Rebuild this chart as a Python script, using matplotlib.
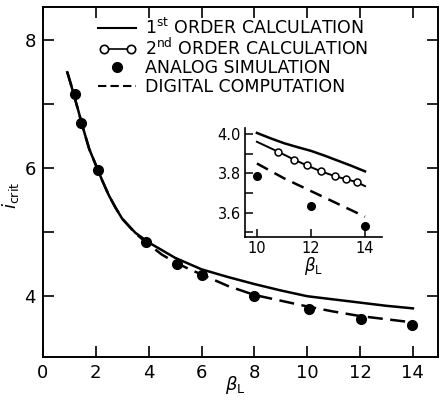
import matplotlib
matplotlib.use('Agg')
from matplotlib import pyplot as plt
from matplotlib.lines import Line2D
from matplotlib.legend_handler import HandlerLine2D

plt.rcParams['font.family'] = ['DejaVu Sans']
plt.rcParams['mathtext.fontset'] = 'dejavusans'

# main panel
beta_first = [0.92, 1.05, 1.2, 1.35, 1.5, 1.75, 2.0, 2.25, 2.5, 2.75, 3.0, 3.5, 4.0, 4.5,
              5.0, 6.0, 7.0, 8.0, 9.0, 10.0, 11.0, 12.0, 13.0, 14.0]
icrit_first = [7.5, 7.32, 7.1, 6.88, 6.65, 6.3, 6.05, 5.8, 5.57, 5.38, 5.21, 4.99, 4.84, 4.72,
               4.6, 4.42, 4.3, 4.19, 4.09, 4.0, 3.95, 3.9, 3.85, 3.81]

beta_digital = [0.92, 1.05, 1.2, 1.35, 1.5, 1.75, 2.0, 2.25, 2.5, 2.75, 3.0, 3.5, 4.0, 4.5,
                5.0, 5.5, 6.0, 7.0, 8.0, 9.0, 10.0, 11.0, 12.0, 13.0, 14.0]
icrit_digital = [7.5, 7.32, 7.1, 6.88, 6.65, 6.3, 6.05, 5.8, 5.57, 5.38, 5.21, 4.98, 4.81, 4.65,
                 4.53, 4.43, 4.34, 4.16, 4.02, 3.93, 3.84, 3.76, 3.69, 3.64, 3.59]

beta_analog = [1.21, 1.42, 2.1, 3.9, 5.08, 6.03, 8.0, 10.05, 12.03, 13.97]
icrit_analog = [7.16, 6.71, 5.97, 4.85, 4.51, 4.33, 4.0, 3.8, 3.64, 3.55]

# inset (beta 10..14)
ins_beta_first = [10.0, 10.5, 11.0, 11.5, 12.0, 12.5, 13.0, 13.5, 14.0]
ins_icrit_first = [4.005, 3.978, 3.953, 3.933, 3.914, 3.89, 3.864, 3.838, 3.81]

ins_beta_second = [10.0, 10.78, 11.37, 11.85, 12.37, 12.9, 13.31, 13.71, 14.0]
ins_icrit_second = [3.96, 3.91, 3.87, 3.84, 3.81, 3.785, 3.77, 3.755, 3.735]

ins_beta_digital = [10.0, 11.0, 12.0, 13.0, 14.0]
ins_icrit_digital = [3.85, 3.775, 3.71, 3.645, 3.58]

ins_beta_analog = [10.0, 12.0, 14.0]
ins_icrit_analog = [3.785, 3.635, 3.535]

labels = [r'$1^{\mathrm{st}}$ ORDER CALCULATION',
          r'$2^{\mathrm{nd}}$ ORDER CALCULATION',
          'ANALOG SIMULATION',
          'DIGITAL COMPUTATION']

fig = plt.figure(figsize=(4.41, 4.0), dpi=100)
ax = fig.add_axes([0.0975, 0.1075, 0.8957, 0.875])

ax.plot(beta_first, icrit_first, '-', color='black', lw=1.8)
ax.plot(beta_digital, icrit_digital, '--', color='black', lw=1.8, dashes=(6, 3))
ax.plot(beta_analog, icrit_analog, 'o', color='black', ms=7)

ax.set_xlim(0, 14.95)
ax.set_ylim(3.05, 8.52)
ax.set_xticks(range(0, 15, 2))
ax.set_xticklabels(['0', '2', '4', '6', '8', '10', '12', '14'])
ax.set_yticks([4, 6, 8])
ax.set_yticks([5, 7], minor=True)
ax.tick_params(which='both', direction='in', length=8, width=1.2,
               top=True, right=True, labelsize=13, pad=5)
for s in ax.spines.values():
    s.set_linewidth(1.4)
ax.set_xlabel(r'$\beta_{\mathrm{L}}$', fontsize=13, va='center')
ax.xaxis.set_label_coords(0.486, -0.08)
ax.set_ylabel(r'$i_{\mathrm{crit}}$', fontsize=13, va='center')
ax.yaxis.set_label_coords(-0.082, 0.463)

handles = [Line2D([], [], color='black', lw=1.5),
           Line2D([], [], color='black', lw=1.2, marker='o', ms=6, mfc='white', mew=1.2),
           Line2D([], [], color='black', ls='none', marker='o', ms=7),
           Line2D([], [], color='black', lw=1.5, ls='--', dashes=(4, 2))]
leg = ax.legend(handles, labels, loc='upper left', bbox_to_anchor=(0.14, 0.97),
                frameon=False, fontsize=12.5, handlelength=2.2, handletextpad=0.5,
                labelspacing=0.02, borderpad=0, borderaxespad=0, numpoints=1,
                handler_map={handles[1]: HandlerLine2D(numpoints=2)})

# inset
axi = fig.add_axes([0.5556, 0.4075, 0.3107, 0.2725])
axi.plot(ins_beta_first, ins_icrit_first, '-', color='black', lw=1.8)
axi.plot(ins_beta_second, ins_icrit_second, '-', color='black', lw=1.4,
         marker='o', ms=5, mfc='white', mew=1.1, markevery=slice(1, -1))
axi.plot(ins_beta_digital, ins_icrit_digital, '--', color='black', lw=1.8, dashes=(5, 3))
axi.plot(ins_beta_analog, ins_icrit_analog, 'o', color='black', ms=5.5)
axi.set_xlim(9.56, 14.63)
axi.set_ylim(3.477, 4.03)
axi.set_xticks([10, 12, 14])
axi.set_yticks([3.6, 3.8, 4.0])
axi.set_yticklabels(['3.6', '3.8', '4.0'])
axi.set_yticks([3.5, 3.7, 3.9], minor=True)
axi.spines['top'].set_visible(False)
axi.spines['right'].set_visible(False)
for s in ['left', 'bottom']:
    axi.spines[s].set_linewidth(1.2)
axi.tick_params(which='both', direction='in', length=6, width=1.1, labelsize=10.5, pad=3)
axi.set_xlabel(r'$\beta_{\mathrm{L}}$', fontsize=12, labelpad=-1)

fig.savefig('out.png', dpi=100)
